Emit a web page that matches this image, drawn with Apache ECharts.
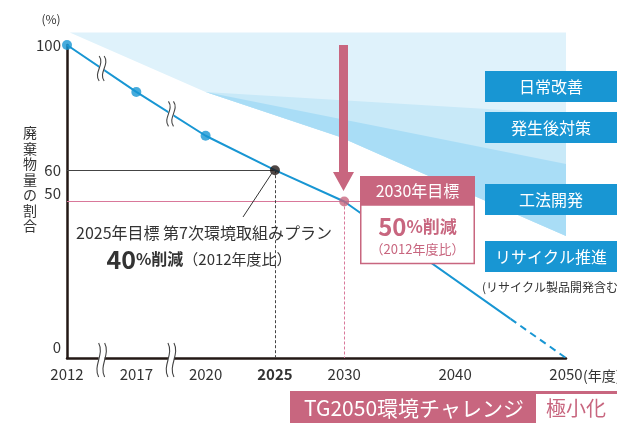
<!DOCTYPE html>
<html><head><meta charset="utf-8">
<script src="https://cdn.jsdelivr.net/npm/echarts@6/dist/echarts.min.js"></script>
<style>html,body{margin:0;padding:0;background:#fff}#c{width:617px;height:423px}</style>
</head><body><div id="c"></div>
<script>
// ---- axis layout (non-uniform, broken time axis) ----
const tickYears = [2012, 2017, 2020, 2025, 2030, 2040, 2050];
const tickSlots = [0, 1, 2, 3, 4, 5.6, 7.2];
const yTicks = [0, 50, 60, 100];

// ---- main series ----
const lineYears = [2012, 2017, 2020, 2025, 2030, 2045];
const lineValues = [100, 85, 71, 60, 50, 12.5];
const dashYears = [2045, 2050];
const dashValues = [12.5, 0];

const markerYears = [2012, 2017, 2020, 2025, 2030];
const markerValues = [100, 85, 71, 60, 50];
const markerKinds = ['past', 'past', 'past', 'target2025', 'target2030'];

const target2025 = [2025, 60];
const target2030 = [2030, 50];
const line50EndYear = 2031.5;

// ---- shaded fan of measures ----
const bandLightYears = [2012.2, 2050, 2050, 2042.2, 2033.2, 2029.7, 2020];
const bandLightValues = [104, 104, 39, 51, 65, 70.6, 85];
const bandMidYears = [2020, 2050, 2050, 2042.2, 2033.2, 2029.7];
const bandMidValues = [85, 78, 39, 51, 65, 70.6];
const bandDarkYears = [2020, 2050, 2050, 2042.2, 2033.2, 2029.7];
const bandDarkValues = [85, 62, 39, 51, 65, 70.6];

// axis break marks between these marker indices
const breakAfter = [0, 1];

const pink = '#c8667f';
const blue = '#1896d3';
const dark = '#231815';
const FONT = "'Noto Sans CJK JP','Noto Sans',sans-serif";

function toSlot(year) {
  for (let i = 0; i < tickYears.length - 1; i++) {
    if (year <= tickYears[i + 1] || i === tickYears.length - 2) {
      const t = (year - tickYears[i]) / (tickYears[i + 1] - tickYears[i]);
      return tickSlots[i] + t * (tickSlots[i + 1] - tickSlots[i]);
    }
  }
}
function slotLabel(v) {
  const i = tickSlots.findIndex(s => Math.abs(s - v) < 1e-6);
  return i < 0 ? '' : String(tickYears[i]);
}

const bands = [
  { years: bandLightYears, values: bandLightValues, color: '#dff2fb' },
  { years: bandMidYears, values: bandMidValues, color: '#c8e9f8' },
  { years: bandDarkYears, values: bandDarkValues, color: '#a9ddf6' }
];

const markerColor = { past: blue, target2025: dark, target2030: pink };

function wavePath(cx, cy, h, a) {
  return 'M' + cx + ',' + (cy - h / 2) +
    ' C' + (cx + 3 * a) + ',' + (cy - h / 6) + ' ' + (cx - 3 * a) + ',' + (cy + h / 6) + ' ' + cx + ',' + (cy + h / 2);
}
function breakMark(px, py, h, gap) {
  const a = 2.0;
  const l = px - gap / 2, r = px + gap / 2;
  return {
    type: 'group',
    children: [
      { type: 'rect', shape: { x: l, y: py - h / 2 + 2, width: gap, height: h - 4 }, style: { fill: '#fff' } },
      { type: 'path', shape: { pathData: wavePath(l, py, h, a) }, style: { fill: 'none', stroke: '#444', lineWidth: 1.1 } },
      { type: 'path', shape: { pathData: wavePath(r, py, h, a) }, style: { fill: 'none', stroke: '#444', lineWidth: 1.1 } }
    ]
  };
}

const chart = echarts.init(document.getElementById('c'), null, { renderer: 'canvas' });

const option = {
  animation: false,
  textStyle: { fontFamily: FONT },
  grid: { left: 67, right: 51, top: 45, bottom: 65, containLabel: false, outerBoundsMode: 'none' },
  xAxis: {
    type: 'value', min: 0, max: tickSlots[tickSlots.length - 1],
    axisLine: { show: true, lineStyle: { color: dark, width: 2.5 } },
    axisTick: { show: false },
    splitLine: { show: false },
    axisLabel: {
      customValues: tickSlots, margin: 9, fontSize: 15, color: '#333', fontFamily: FONT,
      formatter: v => { const s = slotLabel(v); return s === '2025' ? '{b|2025}' : s; },
      rich: { b: { fontWeight: 'bold', fontSize: 15, color: '#333', fontFamily: FONT } }
    }
  },
  yAxis: {
    type: 'value', min: 0, max: 100,
    axisLine: { show: true, lineStyle: { color: dark, width: 2.5 } },
    axisTick: { show: false },
    splitLine: { show: false },
    axisLabel: {
      customValues: yTicks, margin: 6, fontSize: 15, color: '#333', fontFamily: FONT,
      formatter: v => v === 0 ? '{z|0}' : v === 50 ? '{f|50}' : String(v),
      rich: {
        z: { padding: [0, 0, 22, 0], fontSize: 15, color: '#333', fontFamily: FONT },
        f: { padding: [0, 0, 16, 0], fontSize: 15, color: '#333', fontFamily: FONT }
      }
    }
  },
  series: [
    {
      type: 'custom', name: 'bands', z: 1, silent: true,
      data: bands.map((b, i) => [0, 0]),
      renderItem: (params, api) => {
        const b = bands[params.dataIndex];
        const pts = b.years.map((y, i) => api.coord([toSlot(y), b.values[i]]));
        return { type: 'polygon', shape: { points: pts }, style: { fill: b.color } };
      }
    },
    {
      type: 'line', name: 'ref', z: 3, symbol: 'none', data: [],
      markLine: {
        silent: true, symbol: 'none', label: { show: false },
        data: [
          [{ coord: [0, target2025[1]], lineStyle: { color: '#444', width: 1, type: 'solid' } }, { coord: [toSlot(target2025[0]), target2025[1]] }],
          [{ coord: [0, target2030[1]], lineStyle: { color: '#d9789a', width: 1, type: 'solid' } }, { coord: [toSlot(line50EndYear), target2030[1]] }],
          [{ coord: [toSlot(target2025[0]), target2025[1]], lineStyle: { color: '#444', width: 1, type: [3, 2] } }, { coord: [toSlot(target2025[0]), 0] }],
          [{ coord: [toSlot(target2030[0]), target2030[1]], lineStyle: { color: '#d9789a', width: 1, type: [3, 2] } }, { coord: [toSlot(target2030[0]), 0] }]
        ]
      }
    },
    {
      type: 'line', name: 'solid', z: 5, symbol: 'none',
      lineStyle: { color: blue, width: 2 },
      data: lineYears.map((y, i) => [toSlot(y), lineValues[i]])
    },
    {
      type: 'line', name: 'dash', z: 5, symbol: 'none',
      lineStyle: { color: blue, width: 2, type: [7, 5] },
      data: dashYears.map((y, i) => [toSlot(y), dashValues[i]])
    },
    {
      type: 'custom', name: 'breaks', z: 6, silent: true,
      data: breakAfter.map(i => [0, 0]),
      renderItem: (params, api) => {
        const i = breakAfter[params.dataIndex];
        const p1 = api.coord([toSlot(markerYears[i]), markerValues[i]]);
        const p2 = api.coord([toSlot(markerYears[i + 1]), markerValues[i + 1]]);
        const mx = (p1[0] + p2[0]) / 2, my = (p1[1] + p2[1]) / 2;
        const base = api.coord([(toSlot(markerYears[i]) + toSlot(markerYears[i + 1])) / 2, 0]);
        return {
          type: 'group',
          children: [
            breakMark(mx, my, 25, 5),
            breakMark(base[0], base[1] + 2, 34, 6)
          ]
        };
      }
    },
    {
      type: 'scatter', name: 'markers', z: 7, symbolSize: 10,
      data: markerYears.map((y, i) => ({
        value: [toSlot(y), markerValues[i]],
        itemStyle: { color: markerColor[markerKinds[i]] }
      }))
    }
  ],
  graphic: [
    { type: 'text', x: 51, y: 19, z: 100, style: { text: '(%)', fontSize: 12, fill: '#333', align: 'center', verticalAlign: 'middle', fontFamily: FONT } },
    { type: 'text', x: 30, y: 125, z: 100, style: { text: '廃\n棄\n物\n量\nの\n割\n合', fontSize: 14, lineHeight: 15.5, fill: '#333', align: 'center', verticalAlign: 'top', fontFamily: FONT } },
    { type: 'text', x: 583, y: 376, z: 100, style: { text: '(年度)', fontSize: 14, fill: '#333', align: 'left', verticalAlign: 'middle', fontFamily: FONT } },
    // arrow to 2030 target
    { type: 'polygon', z: 100, shape: { points: [[339, 45], [348, 45], [348, 172], [354, 172], [343.5, 191], [333, 172], [339, 172]] }, style: { fill: pink } },
    // 2025 annotation
    { type: 'line', z: 100, shape: { x1: 272, y1: 173, x2: 243, y2: 217 }, style: { stroke: '#333', lineWidth: 1 } },
    { type: 'text', x: 204, y: 233, z: 100, style: { text: '2025年目標 第7次環境取組みプラン', fontSize: 16, fill: '#333', align: 'center', verticalAlign: 'middle', fontFamily: FONT } },
    { type: 'text', x: 199, y: 259, z: 100, style: {
        text: '{a|40}{b|%削減}{c|（2012年度比）}', align: 'center', verticalAlign: 'middle', fontFamily: FONT,
        rich: {
          a: { fontSize: 25, fontWeight: 'bold', fill: '#333', fontFamily: FONT },
          b: { fontSize: 16, fontWeight: 'bold', fill: '#333', fontFamily: FONT },
          c: { fontSize: 15, fill: '#333', fontFamily: FONT }
        } } },
    // 2030 target box
    { type: 'rect', z: 100, shape: { x: 360.75, y: 205, width: 113.5, height: 58.5 }, style: { fill: '#fff', stroke: pink, lineWidth: 1.5 } },
    { type: 'rect', z: 101, shape: { x: 360, y: 176, width: 115, height: 29 }, style: { fill: pink } },
    { type: 'text', x: 417.5, y: 190.5, z: 102, style: { text: '2030年目標', fontSize: 16, fill: '#fff', align: 'center', verticalAlign: 'middle', fontFamily: FONT } },
    { type: 'text', x: 417.5, y: 227, z: 102, style: {
        text: '{a|50}{b|%削減}', align: 'center', verticalAlign: 'middle', fontFamily: FONT,
        rich: {
          a: { fontSize: 24, fontWeight: 'bold', fill: pink, fontFamily: FONT },
          b: { fontSize: 17, fontWeight: 'bold', fill: pink, fontFamily: FONT }
        } } },
    { type: 'text', x: 417.5, y: 249, z: 102, style: { text: '（2012年度比）', fontSize: 13, fill: pink, align: 'center', verticalAlign: 'middle', fontFamily: FONT } },
    // measure boxes
    { type: 'rect', z: 100, shape: { x: 485, y: 71, width: 132, height: 31 }, style: { fill: blue } },
    { type: 'text', x: 551, y: 87, z: 101, style: { text: '日常改善', fontSize: 16, fill: '#fff', align: 'center', verticalAlign: 'middle', fontFamily: FONT } },
    { type: 'rect', z: 100, shape: { x: 485, y: 112, width: 132, height: 31 }, style: { fill: blue } },
    { type: 'text', x: 551, y: 128, z: 101, style: { text: '発生後対策', fontSize: 16, fill: '#fff', align: 'center', verticalAlign: 'middle', fontFamily: FONT } },
    { type: 'rect', z: 100, shape: { x: 485, y: 184, width: 132, height: 31 }, style: { fill: blue } },
    { type: 'text', x: 551, y: 200, z: 101, style: { text: '工法開発', fontSize: 16, fill: '#fff', align: 'center', verticalAlign: 'middle', fontFamily: FONT } },
    { type: 'rect', z: 100, shape: { x: 485, y: 241, width: 132, height: 31 }, style: { fill: blue } },
    { type: 'text', x: 551, y: 257, z: 101, style: { text: 'リサイクル推進', fontSize: 16, fill: '#fff', align: 'center', verticalAlign: 'middle', fontFamily: FONT } },
    { type: 'text', x: 482, y: 287, z: 101, style: { text: '(リサイクル製品開発含む)', fontSize: 12, fill: '#333', align: 'left', verticalAlign: 'middle', fontFamily: FONT } },
    // bottom banner
    { type: 'rect', z: 100, shape: { x: 290, y: 391, width: 327, height: 32 }, style: { fill: pink } },
    { type: 'rect', z: 101, shape: { x: 536, y: 394, width: 81, height: 29 }, style: { fill: '#fff' } },
    { type: 'text', x: 414, y: 408, z: 102, style: { text: 'TG2050環境チャレンジ', fontSize: 21, fill: '#fff', align: 'center', verticalAlign: 'middle', fontFamily: FONT } },
    { type: 'text', x: 576, y: 408, z: 102, style: { text: '極小化', fontSize: 20, fill: pink, align: 'center', verticalAlign: 'middle', fontFamily: FONT } }
  ]
};
chart.setOption(option);
</script>
</body></html>
